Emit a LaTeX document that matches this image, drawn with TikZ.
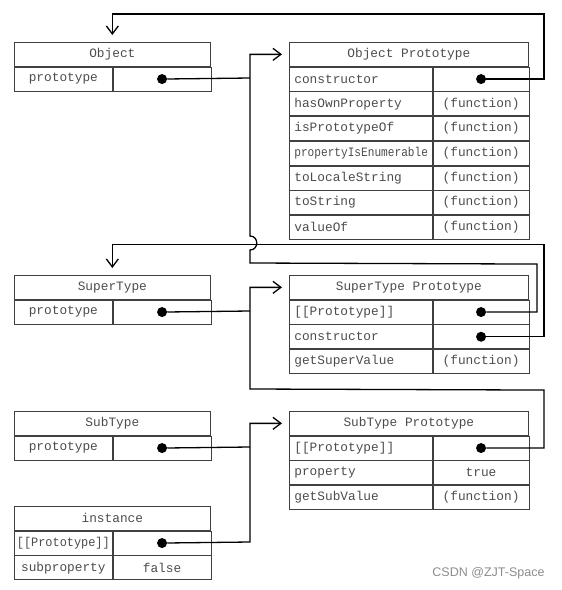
\documentclass[tikz,border=0pt]{standalone}
\usepackage{fontspec}
\setmonofont{Liberation Mono}
\setsansfont{Liberation Sans}
\usetikzlibrary{arrows.meta}

\newcommand{\narrowtext}[2]{\scalebox{#1}[1]{#2}}

\tikzset{
  cell/.style={draw=black!75, line width=0.7pt, minimum height=24pt, inner sep=0pt,
    anchor=north west, text=black!70, font=\ttfamily\fontsize{12.8}{14}\selectfont},
  lcell/.style={cell, text width=133pt, inner xsep=5pt, align=left},
  ptrdot/.style={circle, fill=black, minimum size=10pt, inner sep=0pt},
  wire/.style={line width=1.3pt},
  ptr/.style={wire, -{Straight Barb[length=8pt, width=12pt]}, shorten >=7pt}
}

\begin{document}
\begin{tikzpicture}[x=1pt, y=-1pt]
    \useasboundingbox (0,0) rectangle (562,590);

    % Object
    \node[cell, minimum width=196pt] (obj) at (14,42) {Object};
    \node[cell, minimum width=98pt] (obj-k) at (obj.south west) {prototype};
    \node[cell, minimum width=98pt] (obj-v) at (obj-k.north east) {};
    \node[ptrdot] (obj-d) at (obj-v.center) {};

    % Object Prototype
    \node[cell, minimum width=239pt] (op) at (289,42) {Object Prototype};
    \node[lcell] (op-k1) at (op.south west) {constructor};
    \node[cell, minimum width=96pt] (op-v1) at (op-k1.north east) {};
    \node[ptrdot] (op-d1) at (op-v1.center) {};
    \foreach \k/\v [count=\i from 2] in {hasOwnProperty/(function), isPrototypeOf/(function),
        {\narrowtext{0.87}{propertyIsEnumerable}}/(function), toLocaleString/(function),
        toString/(function), valueOf/(function)} {
      \pgfmathtruncatemacro\j{\i-1}
      \node[lcell] (op-k\i) at (op-k\j.south west) {\k};
      \node[cell, minimum width=96pt] (op-v\i) at (op-k\i.north east) {\v};
    }

    % SuperType
    \node[cell, minimum width=196pt] (sup) at (14,275) {SuperType};
    \node[cell, minimum width=98pt] (sup-k) at (sup.south west) {prototype};
    \node[cell, minimum width=98pt] (sup-v) at (sup-k.north east) {};
    \node[ptrdot] (sup-d) at (sup-v.center) {};

    % SuperType Prototype
    \node[cell, minimum width=239pt] (spp) at (289,275) {SuperType Prototype};
    \node[lcell] (spp-k1) at (spp.south west) {[[Prototype]]};
    \node[cell, minimum width=96pt] (spp-v1) at (spp-k1.north east) {};
    \node[lcell] (spp-k2) at (spp-k1.south west) {constructor};
    \node[cell, minimum width=96pt] (spp-v2) at (spp-k2.north east) {};
    \node[lcell] (spp-k3) at (spp-k2.south west) {getSuperValue};
    \node[cell, minimum width=96pt] (spp-v3) at (spp-k3.north east) {(function)};
    \node[ptrdot] (spp-d1) at (spp-v1.center) {};
    \node[ptrdot] (spp-d2) at (spp-v2.center) {};

    % SubType
    \node[cell, minimum width=196pt] (sub) at (14,411) {SubType};
    \node[cell, minimum width=98pt] (sub-k) at (sub.south west) {prototype};
    \node[cell, minimum width=98pt] (sub-v) at (sub-k.north east) {};
    \node[ptrdot] (sub-d) at (sub-v.center) {};

    % SubType Prototype
    \node[cell, minimum width=239pt] (sbp) at (289,411) {SubType Prototype};
    \node[lcell] (sbp-k1) at (sbp.south west) {[[Prototype]]};
    \node[cell, minimum width=96pt] (sbp-v1) at (sbp-k1.north east) {};
    \node[lcell] (sbp-k2) at (sbp-k1.south west) {property};
    \node[cell, minimum width=96pt] (sbp-v2) at (sbp-k2.north east) {true};
    \node[lcell] (sbp-k3) at (sbp-k2.south west) {getSubValue};
    \node[cell, minimum width=96pt] (sbp-v3) at (sbp-k3.north east) {(function)};
    \node[ptrdot] (sbp-d1) at (sbp-v1.center) {};

    % instance
    \node[cell, minimum width=196pt] (inst) at (14,506) {instance};
    \node[cell, minimum width=98pt] (inst-k1) at (inst.south west) {\narrowtext{0.93}{[[Prototype]]}};
    \node[cell, minimum width=98pt] (inst-v1) at (inst-k1.north east) {};
    \node[cell, minimum width=98pt] (inst-k2) at (inst-k1.south west) {subproperty};
    \node[cell, minimum width=98pt] (inst-v2) at (inst-k2.north east) {false};
    \node[ptrdot] (inst-d) at (inst-v1.center) {};

    % constructor pointers back to the functions
    \draw[ptr] (op-d1) -| ++(63,-65) -| (obj.north);
    \draw[ptr] (spp-d2) -| ++(63,-92) -| (sup.north);

    % pointers to Object Prototype (with a jump over the constructor line)
    \coordinate (busA) at (250,78);
    \draw[wire] (obj-d) -- (busA);
    \draw[ptr] (spp-d1) -| ++(56,-48) -- (250,263) -- (250,250)
        .. controls (259,250) and (259,236) .. (250,236) |- (op.west);

    % pointers to SuperType Prototype
    \coordinate (busB) at (250,311);
    \draw[wire] (sup-d) -- (busB);
    \draw[ptr] (sbp-d1) -| ++(63,-58) -- (250,389) |- (spp.west);

    % pointers to SubType Prototype
    \coordinate (busC) at (250,447);
    \draw[wire] (sub-d) -- (busC);
    \draw[ptr] (inst-d) -- (250,542) |- (sbp.west);

    % watermark
    \node[font=\sffamily\fontsize{12.5}{14}\selectfont, text=black!45, anchor=east] (mark)
        at (548,573) {CSDN @ZJT-Space};
\end{tikzpicture}
\end{document}
